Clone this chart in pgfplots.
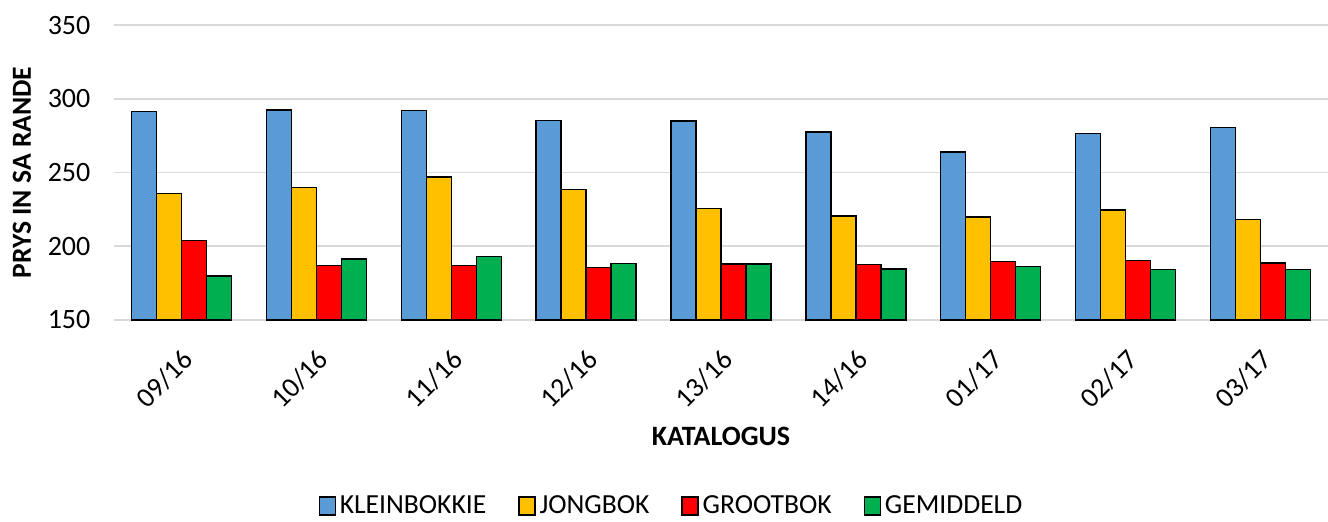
\documentclass[border=0pt]{standalone}
\usepackage{pgfplots}
\pgfplotsset{compat=1.18}
\usepackage{fontspec}
\setmainfont{Carlito}
\definecolor{cblue}{HTML}{5B9BD5}
\definecolor{cyellow}{HTML}{FFC000}
\definecolor{cred}{HTML}{FF0000}
\definecolor{cgreen}{HTML}{00B050}
\definecolor{cgrid}{HTML}{D9D9D9}
\begin{document}
\begin{tikzpicture}
\path[use as bounding box] (-57pt,-100.5pt) rectangle (607pt,160pt);
\begin{axis}[
  at={(0,0)}, anchor=south west,
  scale only axis, width=607pt, height=147.5pt,
  ybar=0pt, bar width=12.5pt,
  xmin=-0.5, xmax=8.5, ymin=150, ymax=350,
  xtick={0,...,8},
  xticklabels={09/16,10/16,11/16,12/16,13/16,14/16,01/17,02/17,03/17},
  ytick={150,200,...,350},
  ymajorgrids, major grid style={draw=cgrid, line width=0.8pt},
  axis line style={draw=none},
  major tick length=0pt,
  tick style={draw=none},
  tick label style={font=\fontsize{14}{16}\selectfont},
  /pgf/number format/assume math mode=true,
  yticklabel style={xshift=-8.3pt},
  xticklabel style={xshift=6pt, yshift=-15pt, rotate=45, anchor=east},
  every axis y label/.style={at={(axis description cs:0,0.5)}, xshift=-46pt, rotate=90, anchor=center, font=\fontsize{13.8}{16}\selectfont\bfseries},
  every axis x label/.style={at={(axis description cs:0.5,0)}, yshift=-58pt, anchor=center, font=\fontsize{14}{16}\selectfont\bfseries},
  ylabel={PRYS IN SA RANDE},
  xlabel={KATALOGUS},
  legend style={draw=none, at={(axis description cs:0.46,0)}, anchor=center, yshift=-93pt,
    font=\fontsize{13.8}{16}\selectfont, legend columns=4, inner sep=1pt,
    /tikz/every even column/.append style={column sep=14pt}},
  legend image code/.code={\draw[#1, line width=0.6pt] (0pt,-4.5pt) rectangle (8pt,4.5pt);},
  every axis plot/.append style={draw=black, line width=0.65pt},
]
\addplot[fill=cblue] coordinates {(0,291.2) (1,292.3) (2,291.9) (3,285.1) (4,284.9) (5,277.4) (6,264.0) (7,276.5) (8,280.3)};
\addplot[fill=cyellow] coordinates {(0,235.7) (1,239.6) (2,246.9) (3,238.3) (4,225.4) (5,220.6) (6,219.9) (7,224.5) (8,218.1)};
\addplot[fill=cred] coordinates {(0,204.1) (1,187.1) (2,187.1) (3,185.5) (4,188.0) (5,187.6) (6,189.6) (7,190.3) (8,188.7)};
\addplot[fill=cgreen] coordinates {(0,179.9) (1,191.4) (2,193.2) (3,188.5) (4,188.0) (5,184.6) (6,186.2) (7,184.2) (8,184.2)};
\legend{KLEINBOKKIE,JONGBOK,GROOTBOK,GEMIDDELD}
\end{axis}
\end{tikzpicture}
\end{document}
